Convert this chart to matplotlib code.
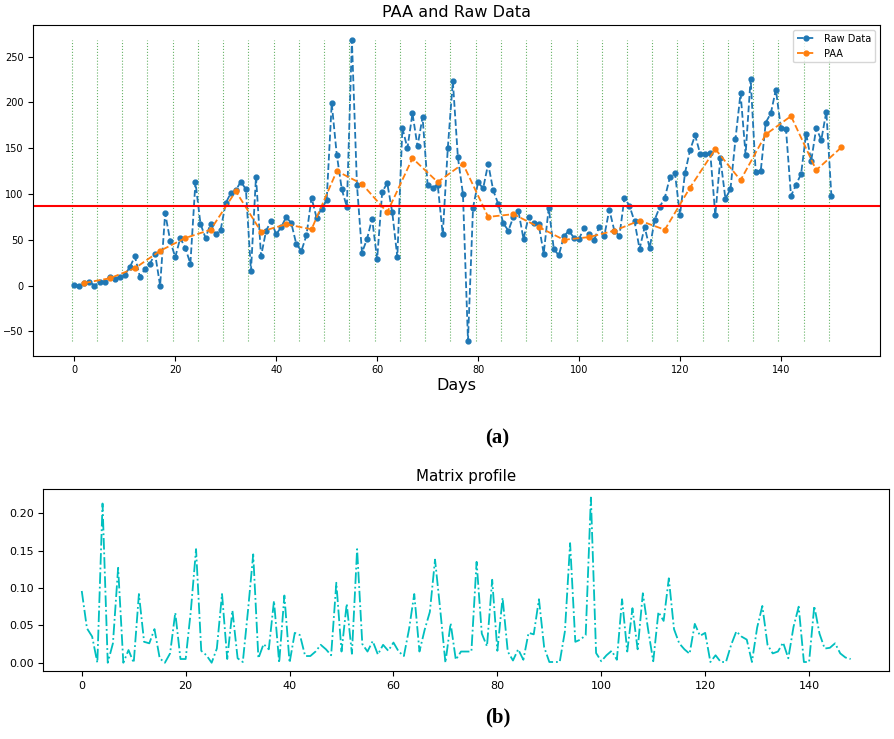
# plot.py
#
# Recreates a two-panel figure: (a) raw daily data with its PAA (piecewise
# aggregate approximation) segments, and (b) the matrix profile of the series.

import numpy as np
import matplotlib
matplotlib.use('Agg')
import matplotlib.pyplot as plt

# --- Raw daily values ---
raw_values = [
    1, 0, 3, 4.5, 0, 4.5, 4.5, 9.6, 7.4, 9.6,
    12, 20, 32, 9.6, 18, 24, 35, 0, 79, 49,
    31, 52, 41, 24, 113, 67.5, 52, 67.5, 56, 61,
    90, 101, 104, 113.6, 105, 16, 119, 32, 60, 70.5,
    56, 64, 75, 68, 45, 38, 55, 96, 74, 84,
    93, 199, 143, 105, 86, 268, 110, 36, 51, 73,
    29, 102, 112, 80, 31, 172, 150, 188, 152, 184,
    110, 107, 110, 56, 150, 223, 140, 100, -60, 85,
    113, 106, 133, 104, 89, 68, 60, 75, 81, 51,
    75, 68, 67, 35, 85, 40, 33, 54, 60, 52,
    51, 63, 56, 50, 64, 54, 83, 60, 54, 96,
    87, 70, 40, 64, 41, 72, 86, 96, 118, 123,
    77, 123, 148, 164, 144, 144, 145, 77, 139, 95,
    105, 160, 210, 143, 226, 124, 125, 178, 188, 214,
    172, 171, 98, 110, 122, 166, 136, 172, 159, 190,
    98,
]
days = np.arange(len(raw_values))

# --- PAA segment means, one per 5-day segment (plotted at segment centre) ---
paa_values = [
    3, 8, 19, 38, 52, 61, 103, 59, 67, 61.5,
    125, 111, 80, 139, 113, 133, 75, 78, 64, 50,
    53, 60, 71, 61, 107, 149, 115, 165, 185, 126,
    151,
]
segment_size = 5
paa_days = np.arange(len(paa_values)) * segment_size + 2
segment_edges = np.arange(len(paa_values)) * segment_size - 0.5

threshold = 87  # horizontal reference line

# --- Matrix profile values (window of 3 days) ---
mp_values = [
    0.096, 0.046, 0.035, 0.0, 0.213, 0.0, 0.026, 0.127, 0.0, 0.017,
    0.0, 0.092, 0.028, 0.026, 0.045, 0.006, 0.0, 0.0125, 0.067, 0.005,
    0.005, 0.07, 0.152, 0.016, 0.010, 0.0, 0.019, 0.092, 0.005, 0.070,
    0.006, 0.001, 0.07, 0.145, 0.006, 0.025, 0.018, 0.083, 0.0, 0.09,
    0.0, 0.04, 0.037, 0.009, 0.009, 0.015, 0.024, 0.018, 0.010, 0.107,
    0.015, 0.079, 0.012, 0.152, 0.025, 0.015, 0.029, 0.011, 0.024, 0.016,
    0.027, 0.015, 0.009, 0.045, 0.092, 0.015, 0.044, 0.068, 0.138, 0.071,
    0.0, 0.053, 0.004, 0.015, 0.015, 0.015, 0.135, 0.039, 0.022, 0.111,
    0.016, 0.087, 0.015, 0.003, 0.018, 0.004, 0.040, 0.038, 0.085, 0.021,
    0.001, 0.001, 0.001, 0.042, 0.16, 0.028, 0.031, 0.037, 0.221, 0.013,
    0.002, 0.010, 0.016, 0.004, 0.085, 0.015, 0.073, 0.018, 0.093, 0.045,
    0.002, 0.068, 0.056, 0.113, 0.045, 0.026, 0.018, 0.012, 0.052, 0.036,
    0.040, 0.001, 0.010, 0.001, 0.001, 0.024, 0.042, 0.035, 0.031, 0.001,
    0.047, 0.076, 0.024, 0.0125, 0.015, 0.027, 0.006, 0.048, 0.075, 0.001,
    0.001, 0.076, 0.039, 0.019, 0.020, 0.026, 0.0125, 0.007, 0.005,
]
mp_index = np.arange(len(mp_values))

fig = plt.figure(figsize=(8.95, 7.39), dpi=100)

# --- (a) PAA and raw data ---
ax1 = fig.add_axes([0.0372, 0.5187, 0.946, 0.4475])
ax1.vlines(segment_edges, min(raw_values), max(raw_values),
           colors='g', linestyles=':', linewidth=0.8, alpha=0.6)
ax1.plot(days, raw_values, '--o', color='#1f77b4', markersize=3.5,
         linewidth=1.3, label='Raw Data')
ax1.plot(paa_days, paa_values, '--o', color='#ff7f0e', markersize=3.5,
         linewidth=1.3, label='PAA')
ax1.axhline(threshold, color='r', linewidth=1.5)
ax1.set_title('PAA and Raw Data', fontsize=11.5)
ax1.set_xlabel('Days', fontsize=11.5, labelpad=2)
ax1.tick_params(labelsize=7)
ax1.legend(loc='upper right', fontsize=7)

# --- (b) matrix profile ---
ax2 = fig.add_axes([0.0484, 0.092, 0.945, 0.2459])
ax2.plot(mp_index, mp_values, 'c-.', linewidth=1.3)
ax2.set_title('Matrix profile', fontsize=10.8)
ax2.tick_params(labelsize=8)

# panel captions
fig.text(0.556, 1 - 438 / 739, '(a)', ha='center', va='center',
         fontsize=15, fontweight='bold', family='Liberation Serif')
fig.text(0.556, 1 - 717 / 739, '(b)', ha='center', va='center',
         fontsize=15, fontweight='bold', family='Liberation Serif')

fig.savefig('out.png', dpi=100)
